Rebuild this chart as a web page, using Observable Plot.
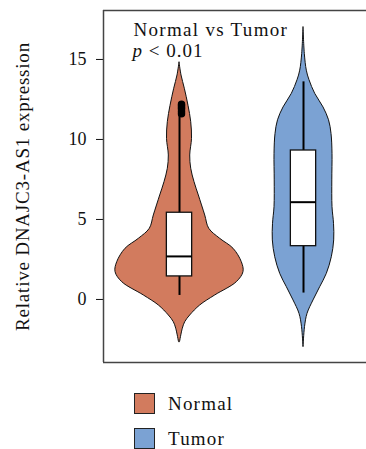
<!DOCTYPE html>
<html><head><meta charset="utf-8">
<script src="https://cdn.jsdelivr.net/npm/d3@7"></script>
<script src="https://cdn.jsdelivr.net/npm/@observablehq/plot@0.6"></script>
<style>
body{margin:0;background:#fff;font-family:"Liberation Serif","DejaVu Serif",serif;}
#chart svg{display:block;}
.legend{margin-left:134px;margin-top:18px;}
.item{display:flex;align-items:center;height:21px;margin-bottom:14px;font-size:19px;letter-spacing:1.2px;color:#111;}
.sw{width:19px;height:19px;border:1.3px solid #222;margin-right:13px;}
</style></head>
<body>
<div id="chart"></div>
<div class="legend" id="legend"></div>
<script>
const categories = ["Normal", "Tumor"];
const colors = ["#D27B5E", "#7BA2D3"];
const yTicks = [0, 5, 10, 15];

// violin profiles: value and relative density
const normalValues  = [14.8, 14.0, 13.17, 12.1, 11.08, 10.04, 9.0, 8.17, 7.33, 6.5, 5.25, 4.42, 3.79, 3.17, 2.33, 1.71, 1.08, 0.25, -0.375, -1.0, -1.42, -1.83, -2.67];
const normalDensity = [0, 2, 5.3, 9, 11.7, 12.5, 10.7, 11.7, 15, 19.3, 25.7, 29.7, 40.7, 54, 62.3, 64, 57.3, 35.7, 20.7, 10.7, 5.7, 3.3, 0.5];
const tumorValues   = [17.0, 15.35, 14.3, 13.7, 12.85, 12.0, 11.2, 10.35, 9.1, 7.44, 5.77, 4.73, 3.69, 2.64, 1.6, 0.77, -0.06, -0.9, -1.73, -2.98];
const tumorDensity  = [0, 1.3, 3.3, 6, 11.7, 20, 25.5, 28, 29, 28.8, 29, 30.5, 30.7, 28.3, 23.3, 16.7, 10, 4, 1.5, 0];

// box statistics
const whiskerLow  = [0.25, 0.4];
const q1          = [1.44, 3.33];
const median      = [2.69, 6.08];
const q3          = [5.42, 9.31];
const whiskerHigh = [11.7, 13.6];
const normalOutliers = [12.2, 12.1, 12.0, 11.9, 11.75, 11.6];

const densMax = 64;
const halfWidth = 0.516;
const boxHalf = 0.102;

const violinData = [];
normalValues.forEach((v,i)=>violinData.push({cat:"Normal", pos:1, value:v, d:normalDensity[i]/densMax}));
tumorValues.forEach((v,i)=>violinData.push({cat:"Tumor", pos:2, value:v, d:tumorDensity[i]/densMax}));
const boxes = categories.map((c,i)=>({cat:c, pos:i+1, lo:whiskerLow[i], q1:q1[i], med:median[i], q3:q3[i], hi:whiskerHigh[i]}));
const outliers = normalOutliers.map(v=>({pos:1, value:v}));

const xDom = [0.387, 2.508];
const yDom = [-3.94, 18.06];

const chart = Plot.plot({
  width: 366, height: 375,
  marginLeft: 103, marginRight: 0, marginTop: 10, marginBottom: 13,
  style: {fontFamily: "'Liberation Serif', serif", fontSize: "18px", color: "#111", background: "#fff"},
  x: {domain: xDom, axis: null},
  y: {domain: yDom, ticks: yTicks, tickSize: 7, tickPadding: 10, label: null, tickFormat: d=>String(d)},
  color: {domain: categories, range: colors},
  marks: [
    Plot.areaX(violinData, {z: "cat", y: "value", x1: d=>d.pos - d.d*halfWidth, x2: d=>d.pos + d.d*halfWidth,
      fill: "cat", stroke: "#111", strokeWidth: 1, curve: "catmull-rom"}),
    Plot.ruleX(boxes, {x: "pos", y1: "lo", y2: "hi", stroke: "#000", strokeWidth: 2}),
    Plot.rect(boxes, {x1: d=>d.pos-boxHalf, x2: d=>d.pos+boxHalf, y1: "q1", y2: "q3", fill: "#fff", stroke: "#111", strokeWidth: 1.3}),
    Plot.ruleY(boxes, {y: "med", x1: d=>d.pos-boxHalf, x2: d=>d.pos+boxHalf, stroke: "#000", strokeWidth: 2}),
    Plot.dot(outliers, {x: "pos", y: "value", r: 3, fill: "#000", stroke: "#000", dx: 2}),
    Plot.ruleX([xDom[0]], {stroke: "#444", strokeWidth: 1.5}),
    Plot.ruleY([yDom[0], yDom[1]], {stroke: "#444", strokeWidth: 1.5}),
    Plot.text(["Normal vs Tumor"], {frameAnchor: "top-left", dx: 30, dy: 12, textAnchor: "start", lineAnchor: "top", fontSize: 19, fill: "#111", className: "ann"}),
    Plot.text(["p < 0.01"], {frameAnchor: "top-left", dx: 29, dy: 33, textAnchor: "start", lineAnchor: "top", fontSize: 19, fill: "#111", className: "pval"}),
    Plot.text(["Relative DNAJC3-AS1 expression"], {frameAnchor: "left", dx: -81, rotate: -90, textAnchor: "middle", fontSize: 19, fill: "#111", className: "ylab"})
  ]
});
document.getElementById("chart").appendChild(chart);
d3.select(chart).selectAll("text").each(function(){
  const t = d3.select(this);
  const s = t.text();
  if (s === "p < 0.01") {
    t.text(null);
    t.append("tspan").attr("font-style","italic").text("p");
    t.append("tspan").text(" < 0.01");
    t.style("letter-spacing","1px");
  } else if (s === "Normal vs Tumor") {
    t.style("letter-spacing","1.3px");
  } else if (s === "Relative DNAJC3-AS1 expression") {
    t.style("letter-spacing","0.8px");
  }
});
const leg = d3.select("#legend");
categories.forEach((c,i)=>{
  const it = leg.append("div").attr("class","item");
  it.append("div").attr("class","sw").style("background", colors[i]);
  it.append("span").text(c);
});
</script>
</body></html>
